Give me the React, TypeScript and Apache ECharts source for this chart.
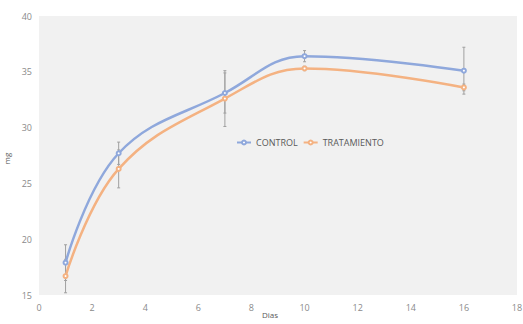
import React, { useEffect, useRef } from "react";
import * as echarts from "echarts";

const days = [1, 3, 7, 10, 16];
const controlValues = [17.9, 27.7, 33.1, 36.4, 35.1];
const controlErrors = [1.6, 1.0, 1.8, 0.5, 2.1];
const treatmentValues = [16.7, 26.3, 32.6, 35.3, 33.6];
const treatmentErrors = [1.5, 1.7, 2.5, 0.2, 0.3];
const seriesNames = ["CONTROL", "TRATAMIENTO"];
const xAxisName = "Dias";
const yAxisName = "mg";

const FONT = "'Open Sans', 'Liberation Sans', sans-serif";
const BLUE = "#8fa8dc";
const ORANGE = "#f4b282";

function errorSeries(values: number[], errors: number[]) {
  return {
    type: "custom",
    z: 1,
    silent: true,
    data: days.map((d, i) => [d, values[i] - errors[i], values[i] + errors[i]]),
    encode: { x: 0, y: [1, 2] },
    renderItem: (params: any, api: any) => {
      const x = api.value(0);
      const lo = api.coord([x, api.value(1)]);
      const hi = api.coord([x, api.value(2)]);
      const cap = 1.5;
      const style = { stroke: "#a0a0a0", lineWidth: 1 };
      return {
        type: "group",
        children: [
          { type: "line", shape: { x1: lo[0], y1: lo[1], x2: hi[0], y2: hi[1] }, style },
          { type: "line", shape: { x1: lo[0] - cap, y1: lo[1], x2: lo[0] + cap, y2: lo[1] }, style },
          { type: "line", shape: { x1: hi[0] - cap, y1: hi[1], x2: hi[0] + cap, y2: hi[1] }, style },
        ],
      };
    },
  };
}

export default function App() {
  const ref = useRef<HTMLDivElement>(null);
  useEffect(() => {
    if (!ref.current) return;
    const chart = echarts.init(ref.current, undefined, { renderer: "svg" });
    chart.setOption({
      animation: false,
      backgroundColor: "#ffffff",
      grid: {
        left: 39,
        right: 6,
        top: 16,
        bottom: 29,
        outerBoundsMode: "none",
        containLabel: false,
        show: true,
        backgroundColor: "#f1f1f1",
        borderWidth: 0,
      },
      legend: {
        data: seriesNames,
        left: 236,
        top: 138,
        itemWidth: 14,
        itemHeight: 5,
        itemGap: 5,
        padding: 0,
        textStyle: { fontFamily: FONT, fontSize: 9, color: "#595959" },
      },
      xAxis: {
        type: "value",
        min: 0,
        max: 18,
        interval: 2,
        name: xAxisName,
        nameLocation: "middle",
        nameGap: 15,
        nameMoveOverlap: false,
        nameTextStyle: {
          fontFamily: FONT,
          fontSize: 8,
          color: "#595959",
          padding: [0, 16, 0, 0],
        },
        axisLine: { show: false },
        axisTick: { show: false },
        splitLine: { show: false },
        axisLabel: { fontFamily: FONT, fontSize: 9, color: "#8a8a8a", margin: 8 },
      },
      yAxis: {
        type: "value",
        min: 15,
        max: 40,
        interval: 5,
        name: yAxisName,
        nameLocation: "middle",
        nameGap: 23,
        nameRotate: 90,
        nameTextStyle: { fontFamily: FONT, fontSize: 8, color: "#595959", padding: [0, 6, 0, 0] },
        axisLine: { show: false },
        axisTick: { show: false },
        splitLine: { show: false },
        axisLabel: { fontFamily: FONT, fontSize: 9, color: "#8a8a8a", margin: 7 },
      },
      series: [
        errorSeries(controlValues, controlErrors),
        errorSeries(treatmentValues, treatmentErrors),
        {
          name: seriesNames[0],
          type: "line",
          z: 3,
          smooth: 0.4,
          data: days.map((d, i) => [d, controlValues[i]]),
          symbol: "emptyCircle",
          symbolSize: 4,
          lineStyle: { color: BLUE, width: 2.5 },
          itemStyle: { color: BLUE, borderColor: "#7d8fbf", borderWidth: 1 },
        },
        {
          name: seriesNames[1],
          type: "line",
          z: 2,
          smooth: 0.4,
          data: days.map((d, i) => [d, treatmentValues[i]]),
          symbol: "emptyCircle",
          symbolSize: 4,
          lineStyle: { color: ORANGE, width: 2.5 },
          itemStyle: { color: ORANGE, borderColor: "#c99a75", borderWidth: 1 },
        },
      ],
    });
    return () => chart.dispose();
  }, []);
  return (
    <div
      ref={ref}
      style={{ position: "fixed", left: 0, top: 0, width: 523, height: 324 }}
    />
  );
}
